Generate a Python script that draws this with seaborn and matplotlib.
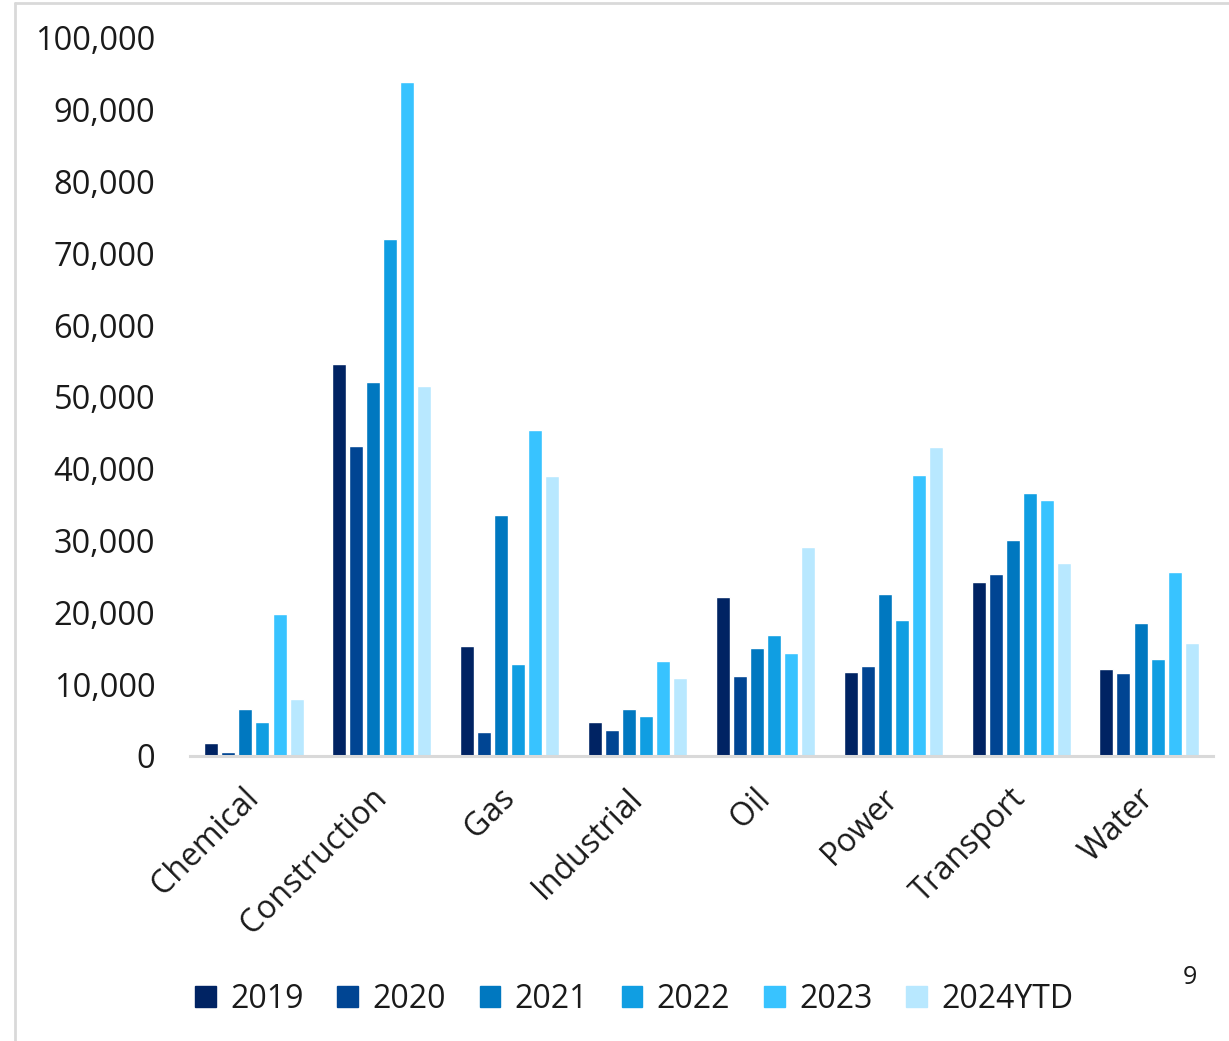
import matplotlib
matplotlib.use("Agg")
import matplotlib.pyplot as plt
from matplotlib.lines import Line2D
from matplotlib.ticker import FuncFormatter
import seaborn as sns
import pandas as pd

# Sector categories and yearly series
categories = ["Chemical", "Construction", "Gas", "Industrial", "Oil", "Power", "Transport", "Water"]
years = ["2019", "2020", "2021", "2022", "2023", "2024YTD"]

v2019 = [1800, 54600, 15300, 4700, 22100, 11700, 24300, 12100]
v2020 = [500, 43200, 3300, 3600, 11200, 12600, 25300, 11500]
v2021 = [6600, 52100, 33600, 6500, 15000, 22500, 30100, 18500]
v2022 = [4800, 72000, 12800, 5600, 16900, 19000, 36600, 13500]
v2023 = [19800, 93900, 45400, 13300, 14400, 39100, 35700, 25600]
v2024 = [8000, 51500, 39000, 10900, 29100, 43000, 26900, 15800]

palette = ["#002363", "#004593", "#0078C0", "#109EE2", "#38C3FF", "#B8E8FF"]

series = [v2019, v2020, v2021, v2022, v2023, v2024]
rows = []
for yr, vals in zip(years, series):
    for cat, v in zip(categories, vals):
        rows.append({"Sector": cat, "Year": yr, "Value": v})
df = pd.DataFrame(rows)

sns.set_theme(style="white")
plt.rcParams["font.family"] = ["Open Sans", "DejaVu Sans"]

fig = plt.figure(figsize=(12.29, 10.41), dpi=100)
ax = fig.add_axes([190 / 1229, 1 - 756 / 1041, (1213 - 190) / 1229, (756 - 38) / 1041])

sns.barplot(data=df, x="Sector", y="Value", hue="Year", order=categories,
            hue_order=years, palette=palette, width=0.8, gap=0.18,
            saturation=1, ax=ax, legend=False)

ax.set_xlim(-0.5, len(categories) - 0.5)
ax.set_ylim(0, 100000)
ax.set_yticks(range(0, 100001, 10000))
ax.yaxis.set_major_formatter(FuncFormatter(lambda v, p: f"{int(v):,}"))
ax.set_xlabel("")
ax.set_ylabel("")

for s in ["top", "right", "left"]:
    ax.spines[s].set_visible(False)
ax.spines["bottom"].set_color("#D9D9D9")
ax.spines["bottom"].set_linewidth(2.2)

ax.tick_params(axis="y", length=0, pad=25, labelsize=23.5, labelcolor="#1A1A1A")
ax.tick_params(axis="x", length=0, pad=27, labelsize=23, labelcolor="#1A1A1A")
for lbl in ax.get_xticklabels():
    lbl.set_rotation(45)
    lbl.set_ha("right")
    lbl.set_rotation_mode("anchor")
    lbl.set_va("center")

handles = [plt.Rectangle((0, 0), 1, 1, color=c) for c in palette]
fig.legend(handles, years, loc="center", bbox_to_anchor=(0.516, 1 - 999 / 1041),
           ncol=6, frameon=False, fontsize=23, handlelength=0.65, handleheight=0.65,
           handletextpad=0.45, columnspacing=1.05, labelcolor="#1A1A1A")

fig.text(1190 / 1229, 1 - 977 / 1041, "9", fontsize=18, ha="center", va="center",
         color="#1A1A1A")

# Light frame lines on the left and top edges
fig.add_artist(Line2D([15 / 1229, 15 / 1229], [0, 1 - 3 / 1041], color="#D9D9D9", lw=2,
                      transform=fig.transFigure))
fig.add_artist(Line2D([15 / 1229, 1], [1 - 3 / 1041, 1 - 3 / 1041], color="#D9D9D9", lw=2,
                      transform=fig.transFigure))

fig.savefig("out.png", dpi=100, facecolor="white")
